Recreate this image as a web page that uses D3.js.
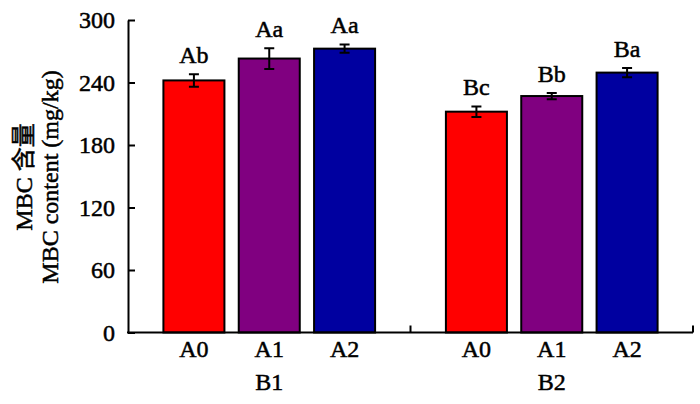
<!DOCTYPE html>
<html>
<head>
<meta charset="utf-8">
<script src="https://cdn.jsdelivr.net/npm/d3@7"></script>
<style>
  body { margin: 0; background: #fff; }
  svg text { font-family: "Liberation Serif", "Noto Sans CJK SC", serif; fill: #000; stroke: #000; stroke-width: 0.5px; }
</style>
</head>
<body>
<div id="chart"></div>
<script>
// data
const groups = ['B1', 'B2'];
const treatments = ['A0', 'A1', 'A2'];
const colors = ['#ff0000', '#800080', '#0000a0'];
const valuesB1 = [242, 263, 272.5];
const valuesB2 = [212, 227, 249.5];
const errorsB1 = [6, 10, 4];
const errorsB2 = [5, 3, 4.5];
const lettersB1 = ['Ab', 'Aa', 'Aa'];
const lettersB2 = ['Bc', 'Bb', 'Ba'];
const yTicks = [0, 60, 120, 180, 240, 300];

const rows = [];
groups.forEach((g, gi) => {
  const vals = gi === 0 ? valuesB1 : valuesB2;
  const errs = gi === 0 ? errorsB1 : errorsB2;
  const lets = gi === 0 ? lettersB1 : lettersB2;
  treatments.forEach((t, ti) => {
    rows.push({ group: g, treat: t, value: vals[ti], err: errs[ti], letter: lets[ti], color: colors[ti] });
  });
});

const width = 700, height = 404;
const plotLeft = 128, plotRight = 693, plotTop = 20, plotBottom = 332.5;
const fontStack = '"Liberation Serif", "Noto Sans CJK SC", serif';

const svg = d3.select('#chart').append('svg')
    .attr('width', width)
    .attr('height', height);

const x0 = d3.scaleBand().domain(groups).range([plotLeft, plotRight]).padding(0);
const x1 = d3.scaleBand().domain(treatments).range([0, x0.bandwidth()])
    .paddingInner(0.19).paddingOuter(0.47);
const y = d3.scaleLinear().domain([0, 300]).range([plotBottom, plotTop]);

// bars
const bar = svg.append('g')
  .selectAll('g')
  .data(rows)
  .join('g')
    .attr('transform', d => `translate(${x0(d.group) + x1(d.treat)},0)`);

bar.append('rect')
    .attr('x', 0)
    .attr('y', d => y(d.value))
    .attr('width', x1.bandwidth())
    .attr('height', d => y(0) - y(d.value))
    .attr('fill', d => d.color)
    .attr('stroke', '#000')
    .attr('stroke-width', 2);

// error bars
const cx = x1.bandwidth() / 2;
bar.append('path')
    .attr('d', d => {
      const y1 = y(d.value + d.err), y2 = y(d.value - d.err);
      return `M${cx},${y1}V${y2}M${cx - 5},${y1}H${cx + 5}M${cx - 5},${y2}H${cx + 5}`;
    })
    .attr('fill', 'none')
    .attr('stroke', '#000')
    .attr('stroke-width', 2);

// significance letters
bar.append('text')
    .attr('x', cx)
    .attr('y', d => y(d.value + d.err) - 11)
    .attr('text-anchor', 'middle')
    .attr('font-family', fontStack)
    .attr('font-size', 24)
    .text(d => d.letter);

// y axis
const yAxis = svg.append('g')
    .attr('transform', `translate(${plotLeft},0)`)
    .call(d3.axisLeft(y).tickValues(yTicks).tickSizeInner(-7).tickSizeOuter(0).tickPadding(13));
yAxis.attr('font-family', fontStack).attr('font-size', 24);
yAxis.select('.domain').attr('stroke-width', 2);
yAxis.selectAll('.tick line').attr('stroke-width', 2);

// x axis: line with inward ticks at group boundaries
const xAxis = svg.append('g');
xAxis.append('line')
    .attr('x1', plotLeft - 1).attr('x2', plotRight)
    .attr('y1', plotBottom).attr('y2', plotBottom)
    .attr('stroke', '#000').attr('stroke-width', 2);
xAxis.selectAll('.gtick')
  .data(groups)
  .join('line')
    .attr('class', 'gtick')
    .attr('x1', d => x0(d) + x0.bandwidth())
    .attr('x2', d => x0(d) + x0.bandwidth())
    .attr('y1', plotBottom).attr('y2', plotBottom - 7)
    .attr('stroke', '#000').attr('stroke-width', 2);

// treatment labels
svg.append('g')
  .selectAll('text')
  .data(rows)
  .join('text')
    .attr('x', d => x0(d.group) + x1(d.treat) + cx)
    .attr('y', 357)
    .attr('text-anchor', 'middle')
    .attr('font-family', fontStack)
    .attr('font-size', 24)
    .text(d => d.treat);

// group labels
svg.append('g')
  .selectAll('text')
  .data(groups)
  .join('text')
    .attr('x', d => x0(d) + x0.bandwidth() / 2)
    .attr('y', 390)
    .attr('text-anchor', 'middle')
    .attr('font-family', fontStack)
    .attr('font-size', 24)
    .text(d => d);

// y label, two lines
const yl = svg.append('text')
    .attr('transform', `translate(32,177) rotate(-90)`)
    .attr('text-anchor', 'middle')
    .attr('font-family', fontStack)
    .attr('font-size', 24);
yl.append('tspan').attr('x', 0).attr('dy', 0).text('MBC 含量');
yl.append('tspan').attr('x', 0).attr('dy', 26).text('MBC content (mg/kg)');
</script>
</body>
</html>
